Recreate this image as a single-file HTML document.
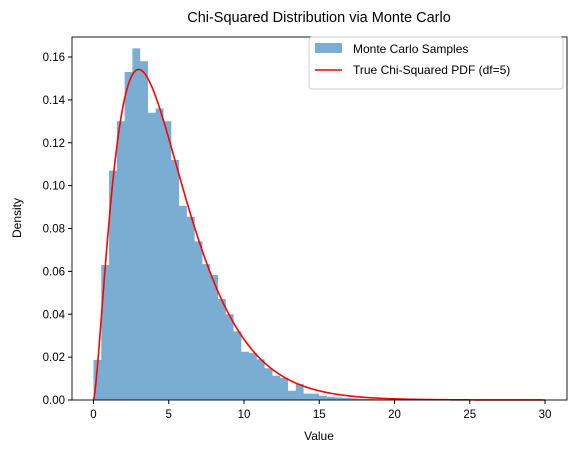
<!DOCTYPE html>
<html><head><meta charset="utf-8"><style>
body{margin:0;background:#fff;}
svg text{font-family:"Liberation Sans","DejaVu Sans",sans-serif;}
</style></head><body>
<svg id="chart" width="576" height="453" viewBox="0 0 576 453">
<text x="319" y="22" font-size="14.5" text-anchor="middle">Chi-Squared Distribution via Monte Carlo</text>
<g id="bars" fill="#1f77b4" fill-opacity="0.6"></g>
<path id="pdf" fill="none" stroke="#ff0000" stroke-width="1.6"/>
<rect x="72" y="37" width="495" height="363" fill="none" stroke="#000" stroke-width="0.9"/>
<g id="xticks"></g>
<g id="yticks"></g>
<text x="319" y="440" font-size="12" text-anchor="middle">Value</text>
<text transform="translate(21,218) rotate(-90)" font-size="12" text-anchor="middle">Density</text>
<g>
<rect x="309" y="37" width="254" height="52" rx="3" fill="#fff" fill-opacity="0.8" stroke="#ccc"/>
<rect x="315" y="43" width="27" height="10" fill="#1f77b4" fill-opacity="0.6"/>
<text x="353" y="53" font-size="12">Monte Carlo Samples</text>
<line x1="315" y1="70" x2="342" y2="70" stroke="#ff0000" stroke-width="1.6"/>
<text x="353" y="74" font-size="12">True Chi-Squared PDF (df=5)</text>
</g>
</svg>
<script>
const binWidth = 0.517;
const densities = [0.0187,0.063,0.107,0.130,0.153,0.164,0.158,0.134,0.136,0.130,0.112,0.0906,0.0855,0.074,0.0634,0.0583,0.0471,0.040,0.032,0.0225,0.022,0.019,0.0148,0.0113,0.0103,0.0043,0.0075,0.003,0.003,0.002,0.0015,0.0012,0.001,0.0008,0.0006,0.0005,0.0004,0.0003,0.0002,0.0002,0.0001,0.0001,0.0001,0,0.0001,0,0,0,0,0.0001];
const xTicks = [0,5,10,15,20,25,30];
const yTicks = [0,0.02,0.04,0.06,0.08,0.10,0.12,0.14,0.16];
const yTickLabels = ["0.00","0.02","0.04","0.06","0.08","0.10","0.12","0.14","0.16"];
const dfParam = [5];
const pdfRange = [0,30];

const NS="http://www.w3.org/2000/svg";
function X(v){return 93.5+v*15.05;}
function Y(v){return 400-v*2143.75;}
const bars=document.getElementById('bars');
let bp='';
densities.forEach((d,i)=>{
  const x0=X(i*binWidth), x1=X((i+1)*binWidth);
  bp+='M'+x0.toFixed(2)+',400V'+Y(d).toFixed(2)+'H'+x1.toFixed(2)+'V400';
});
bp+='Z';
const p=document.createElementNS(NS,'path');
p.setAttribute('d',bp);


bars.appendChild(p);
function gammaHalf(k){
  let n=k/2, g = (k%2===0)?1:Math.sqrt(Math.PI), s=(k%2===0)?1:0.5;
  while(s<n){g*=s;s+=1;} return g;
}
const k=dfParam[0], norm=1/(Math.pow(2,k/2)*gammaHalf(k));
let d='';
for(let i=0;i<=600;i++){
  const x=pdfRange[0]+(pdfRange[1]-pdfRange[0])*i/600;
  const y=norm*Math.pow(x,k/2-1)*Math.exp(-x/2);
  d+=(i?'L':'M')+X(x).toFixed(2)+','+Y(y).toFixed(2);
}
document.getElementById('pdf').setAttribute('d',d);
const xg=document.getElementById('xticks');
xTicks.forEach(t=>{
  const l=document.createElementNS(NS,'line');
  l.setAttribute('x1',X(t));l.setAttribute('x2',X(t));l.setAttribute('y1',400);l.setAttribute('y2',404);l.setAttribute('stroke','#000');
  
  
  xg.appendChild(l);
  const tx=document.createElementNS(NS,'text');
  tx.setAttribute('x',X(t));tx.setAttribute('y',418);tx.setAttribute('font-size','11.5');tx.setAttribute('text-anchor','middle');
  tx.textContent=t;
  
  
  xg.appendChild(tx);
});
const yg=document.getElementById('yticks');
yTicks.forEach((t,i)=>{
  const l=document.createElementNS(NS,'line');
  l.setAttribute('x1',68);l.setAttribute('x2',72);l.setAttribute('y1',Y(t));l.setAttribute('y2',Y(t));l.setAttribute('stroke','#000');
  
  
  yg.appendChild(l);
  const tx=document.createElementNS(NS,'text');
  tx.setAttribute('x',65);tx.setAttribute('y',Y(t)+4);tx.setAttribute('font-size','11.5');tx.setAttribute('text-anchor','end');
  tx.textContent=yTickLabels[i];
  
  
  yg.appendChild(tx);
});
</script>
</body></html>
